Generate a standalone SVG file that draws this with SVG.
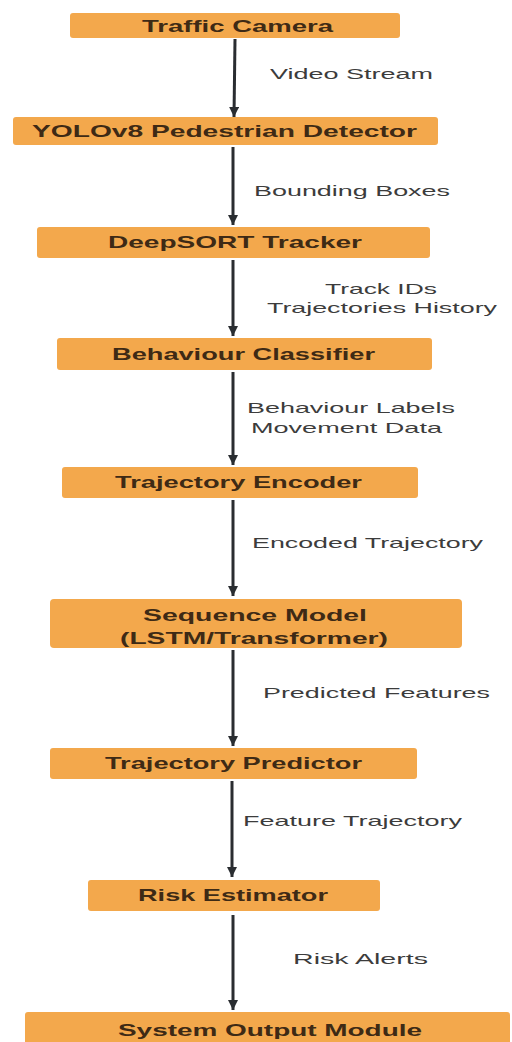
<svg xmlns="http://www.w3.org/2000/svg" width="512" height="1042" viewBox="0 0 512 1042">
<defs>
<style>
.box{fill:#F3A84C;}
.bt{font-family:"Liberation Sans",Arial,sans-serif;font-size:17px;fill:#3e2a15;font-weight:bold;}
.lt{font-family:"Liberation Sans",Arial,sans-serif;font-size:15px;fill:#3c3c3c;}
.ln{stroke:#2a2d31;stroke-width:3;fill:none;}
</style>
<marker id="ah" markerWidth="12" markerHeight="10" refX="10" refY="5" orient="auto" markerUnits="userSpaceOnUse">
<path d="M0,0 L10,5 L0,10 z" fill="#2a2d31"/>
</marker>
</defs>
<rect width="512" height="1042" fill="#ffffff"/>
<g id="connectors">
<line class="ln" x1="235" y1="39" x2="234" y2="117" marker-end="url(#ah)"/>
<line class="ln" x1="233" y1="147" x2="233" y2="225" marker-end="url(#ah)"/>
<line class="ln" x1="233" y1="260" x2="233" y2="336" marker-end="url(#ah)"/>
<line class="ln" x1="233" y1="372" x2="233" y2="465" marker-end="url(#ah)"/>
<line class="ln" x1="233" y1="500" x2="233" y2="596" marker-end="url(#ah)"/>
<line class="ln" x1="233" y1="650" x2="233" y2="746" marker-end="url(#ah)"/>
<line class="ln" x1="232" y1="781" x2="232" y2="877" marker-end="url(#ah)"/>
<line class="ln" x1="233" y1="915" x2="233" y2="1010" marker-end="url(#ah)"/>
<text class="lt" x="270" y="79" textLength="163" lengthAdjust="spacingAndGlyphs">Video Stream</text>
<text class="lt" x="254" y="196" textLength="196" lengthAdjust="spacingAndGlyphs">Bounding Boxes</text>
<text class="lt" x="325" y="294" textLength="112" lengthAdjust="spacingAndGlyphs">Track IDs</text>
<text class="lt" x="267" y="313" textLength="230" lengthAdjust="spacingAndGlyphs">Trajectories History</text>
<text class="lt" x="247" y="413" textLength="208" lengthAdjust="spacingAndGlyphs">Behaviour Labels</text>
<text class="lt" x="251" y="433" textLength="191" lengthAdjust="spacingAndGlyphs">Movement Data</text>
<text class="lt" x="252" y="548" textLength="231" lengthAdjust="spacingAndGlyphs">Encoded Trajectory</text>
<text class="lt" x="263" y="698" textLength="227" lengthAdjust="spacingAndGlyphs">Predicted Features</text>
<text class="lt" x="243" y="826" textLength="219" lengthAdjust="spacingAndGlyphs">Feature Trajectory</text>
<text class="lt" x="293" y="964" textLength="135" lengthAdjust="spacingAndGlyphs">Risk  Alerts</text>
</g>
<g id="n1"><rect class="box" x="70" y="13" width="330" height="25" rx="3"/><text class="bt" x="142" y="32" textLength="191" lengthAdjust="spacingAndGlyphs">Traffic Camera</text></g>
<g id="n2"><rect class="box" x="13" y="117" width="425" height="28" rx="3"/><text class="bt" x="32" y="137" textLength="385" lengthAdjust="spacingAndGlyphs">YOLOv8 Pedestrian Detector</text></g>
<g id="n3"><rect class="box" x="37" y="227" width="393" height="31" rx="3"/><text class="bt" x="108" y="248" textLength="254" lengthAdjust="spacingAndGlyphs">DeepSORT Tracker</text></g>
<g id="n4"><rect class="box" x="57" y="338" width="375" height="32" rx="3"/><text class="bt" x="112" y="360" textLength="263" lengthAdjust="spacingAndGlyphs">Behaviour Classifier</text></g>
<g id="n5"><rect class="box" x="62" y="467" width="356" height="31" rx="3"/><text class="bt" x="115" y="488" textLength="247" lengthAdjust="spacingAndGlyphs">Trajectory Encoder</text></g>
<g id="n6"><rect class="box" x="50" y="599" width="412" height="49" rx="4"/><text class="bt" x="143" y="621" textLength="224" lengthAdjust="spacingAndGlyphs">Sequence Model</text><text class="bt" x="120" y="644" textLength="268" lengthAdjust="spacingAndGlyphs">(LSTM/Transformer)</text></g>
<g id="n7"><rect class="box" x="50" y="748" width="367" height="31" rx="3"/><text class="bt" x="105" y="769" textLength="257" lengthAdjust="spacingAndGlyphs">Trajectory Predictor</text></g>
<g id="n8"><rect class="box" x="88" y="880" width="292" height="31" rx="3"/><text class="bt" x="138" y="901" textLength="190" lengthAdjust="spacingAndGlyphs">Risk Estimator</text></g>
<g id="n9"><rect class="box" x="25" y="1012" width="485" height="34" rx="3"/><text class="bt" x="118" y="1036" textLength="304" lengthAdjust="spacingAndGlyphs">System Output Module</text></g>
</svg>
